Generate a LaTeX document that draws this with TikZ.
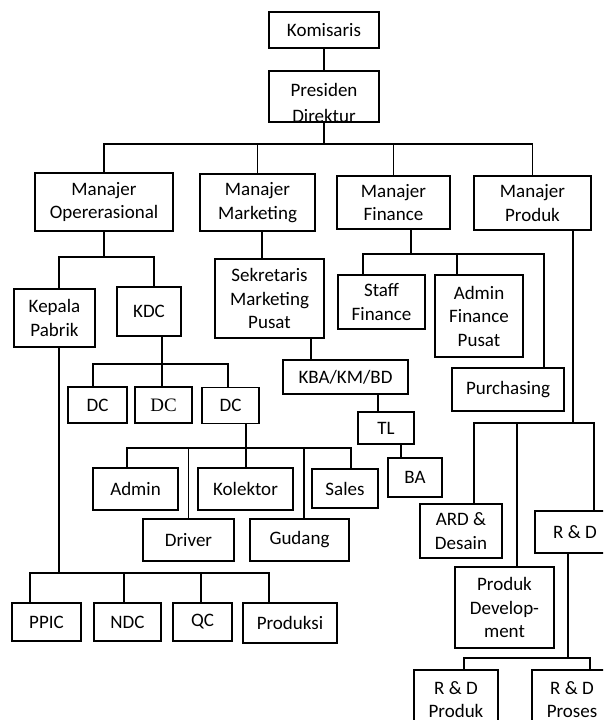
\documentclass[tikz,border=0pt]{standalone}
\usepackage{fontspec}
\setmainfont{Carlito}
\newfontfamily\dcserif{Liberation Serif}

\begin{document}
\fontsize{19}{23.5}\selectfont
\begin{tikzpicture}[
  x = 1pt, y = -1pt,
  line width = 1.5pt,
  unit/.style = {draw, align = center, inner sep = 0pt}
  ]
  \path [use as bounding box, clip] (0,0) rectangle (603,720);

  % Nodes
  \node at (324, 30) [unit, name = komisaris, minimum width = 110pt, minimum height = 36pt] {Komisaris};
  \node at (324, 96.5) [unit, name = presiden, minimum width = 110pt, minimum height = 51pt,
    path picture = {\node [draw = none, align = center] at ([yshift = -6.5pt]path picture bounding box.center) {Presiden\\[2.5pt]Direktur};}] {};

  \node at (104  , 202  ) [unit, name = manop,   minimum width = 138pt, minimum height = 58pt] {Manajer\\Opererasional};
  \node at (257.5, 202.5) [unit, name = manmkt,  minimum width = 115pt, minimum height = 57pt] {Manajer\\Marketing};
  \node at (393.5, 202.5) [unit, name = manfin,  minimum width = 113pt, minimum height = 53pt] {Manajer\\Finance};
  \node at (532.5, 203  ) [unit, name = manprod, minimum width = 117pt, minimum height = 54pt] {Manajer\\Produk};

  % operasional
  \node at (54.5, 318  ) [unit, name = kepala, minimum width = 81pt, minimum height = 58pt] {Kepala\\Pabrik};
  \node at (149 , 311.5) [unit, name = kdc,    minimum width = 64pt, minimum height = 49pt] {KDC};

  \node at (97.5 , 405  ) [unit, name = dc_a, minimum width = 59pt, minimum height = 36pt] {DC};
  \node at (163.5, 405  ) [unit, name = dc_b, minimum width = 57pt, minimum height = 36pt] {\dcserif DC};
  \node at (230.5, 405.5) [unit, name = dc_c, minimum width = 57pt, minimum height = 36pt] {DC};

  \node at (135.5, 489  ) [unit, name = admin,    minimum width = 85pt, minimum height = 42pt] {Admin};
  \node at (245.5, 489  ) [unit, name = kolektor, minimum width = 95pt, minimum height = 42pt] {Kolektor};
  \node at (345  , 488.5) [unit, name = sales,    minimum width = 66pt, minimum height = 39pt] {Sales};
  \node at (188.5, 540  ) [unit, name = driver,   minimum width = 91pt, minimum height = 42pt] {Driver};
  \node at (299.5, 540  ) [unit, name = gudang,   minimum width = 99pt, minimum height = 42pt] {Gudang};

  \node at (46.5 , 622) [unit, name = ppic,     minimum width = 69pt, minimum height = 38pt] {PPIC};
  \node at (127.5, 622) [unit, name = ndc,      minimum width = 67pt, minimum height = 38pt] {NDC};
  \node at (202.5, 622) [unit, name = qc,       minimum width = 59pt, minimum height = 38pt] {QC};
  \node at (290  , 623) [unit, name = produksi, minimum width = 94pt, minimum height = 40pt] {Produksi};

  % marketing
  \node at (269.5, 298.5) [unit, name = sekretaris, minimum width = 109pt, minimum height = 79pt] {Sekretaris\\Marketing\\Pusat};
  \node at (345.5, 377  ) [unit, name = kba, minimum width = 125pt, minimum height = 34pt] {KBA/KM/BD};
  \node at (386  , 428  ) [unit, name = tl,  minimum width = 56pt, minimum height = 32pt] {TL};
  \node at (415  , 477.5) [unit, name = ba,  minimum width = 54pt, minimum height = 39pt] {BA};

  % finance
  \node at (381.5, 302  ) [unit, name = staff,      minimum width = 87pt, minimum height = 54pt] {Staff\\Finance};
  \node at (479  , 316  ) [unit, name = adminfin,   minimum width = 88pt, minimum height = 82pt] {Admin\\Finance\\Pusat};
  \node at (508  , 389.5) [unit, name = purchasing, minimum width = 112pt, minimum height = 43pt] {Purchasing};

  % produk
  \node at (461  , 531  ) [unit, name = ard,    minimum width = 82pt, minimum height = 54pt] {ARD \&\\Desain};
  \node at (575  , 532  ) [unit, name = rnd,    minimum width = 80pt, minimum height = 42pt] {R \& D};
  \node at (504.5, 607.5) [unit, name = prodev, minimum width = 99pt, minimum height = 81pt] {Produk\\Develop-\\ment};
  \node at (456  , 699.5) [unit, name = rndprod,   minimum width = 84pt, minimum height = 59pt] {R \& D\\Produk};
  \node at (572  , 699.5) [unit, name = rndproses, minimum width = 80pt, minimum height = 59pt] {R \& D\\Proses};

  % Lines
  \coordinate (top_bus) at (324, 144);
  \draw (komisaris) -- (presiden);
  \draw (presiden) -- (top_bus);
  \draw (manop.north) |- (top_bus) -| (manprod.north);
  \draw (manmkt.north) |- (top_bus);
  \draw (manfin.north) |- (top_bus);

  % operasional
  \coordinate (op_bus) at (104, 257);
  \draw (manop) -- (op_bus);
  \draw ([xshift = 4.5pt]kepala.north) |- (op_bus) -| ([xshift = 5pt]kdc.north);

  \coordinate (kdc_bus) at (162, 364);
  \draw ([xshift = 13pt]kdc.south) -- (kdc_bus);
  \draw ([xshift = -4.5pt]dc_a.north) |- (kdc_bus) -| ([xshift = -2.5pt]dc_c.north);
  \draw (kdc_bus) -- (kdc_bus |- dc_b.north);

  \coordinate (dc_bus) at (246, 448);
  \draw ([xshift = 15.5pt]dc_c.south) -- (dc_bus);
  \draw ([xshift = -8.5pt]admin.north) |- (dc_bus) -| ([xshift = 6pt]sales.north);
  \draw (dc_bus) -- (dc_bus |- kolektor.north);
  \draw (driver.north) |- (dc_bus);
  \draw ([xshift = 4.5pt]gudang.north) |- (dc_bus);

  \coordinate (pab_bus) at (59, 573);
  \draw ([xshift = 4.5pt]kepala.south) -- (pab_bus);
  \draw ([xshift = -16.5pt]ppic.north) |- (pab_bus) -| ([xshift = -21pt]produksi.north);
  \draw ([xshift = -3.5pt]ndc.north) |- (pab_bus);
  \draw ([xshift = -1.5pt]qc.north) |- (pab_bus);

  % marketing
  \draw ([xshift = 4.5pt]manmkt.south) -- ([xshift = -7.5pt]sekretaris.north);
  \draw ([xshift = 41.5pt]sekretaris.south) -- ([xshift = -34.5pt]kba.north);
  \draw ([xshift = 32.5pt]kba.south) -- ([xshift = -8pt]tl.north);
  \draw ([xshift = 15pt]tl.south) -- ([xshift = -14pt]ba.north);

  % finance
  \coordinate (fin_bus) at (411, 254);
  \draw ([xshift = 17.5pt]manfin.south) -- (fin_bus);
  \draw ([xshift = -18.5pt]staff.north) |- (fin_bus) -| ([xshift = 36pt]purchasing.north);
  \draw ([xshift = -22pt]adminfin.north) |- (fin_bus);

  % produk
  \coordinate (prod_bus) at (573, 423);
  \draw ([xshift = 40.5pt]manprod.south) -- (prod_bus);
  \draw ([xshift = 13pt]ard.north) |- (prod_bus) -| ([xshift = 19pt]rnd.north);
  \draw ([xshift = 12.5pt]prodev.north) |- (prod_bus);

  \coordinate (rnd_bus) at (568, 658);
  \draw ([xshift = -7pt]rnd.south) -- (rnd_bus);
  \draw ([xshift = 8pt]rndprod.north) |- (rnd_bus) -| ([xshift = 18pt]rndproses.north);

\end{tikzpicture}
\end{document}
